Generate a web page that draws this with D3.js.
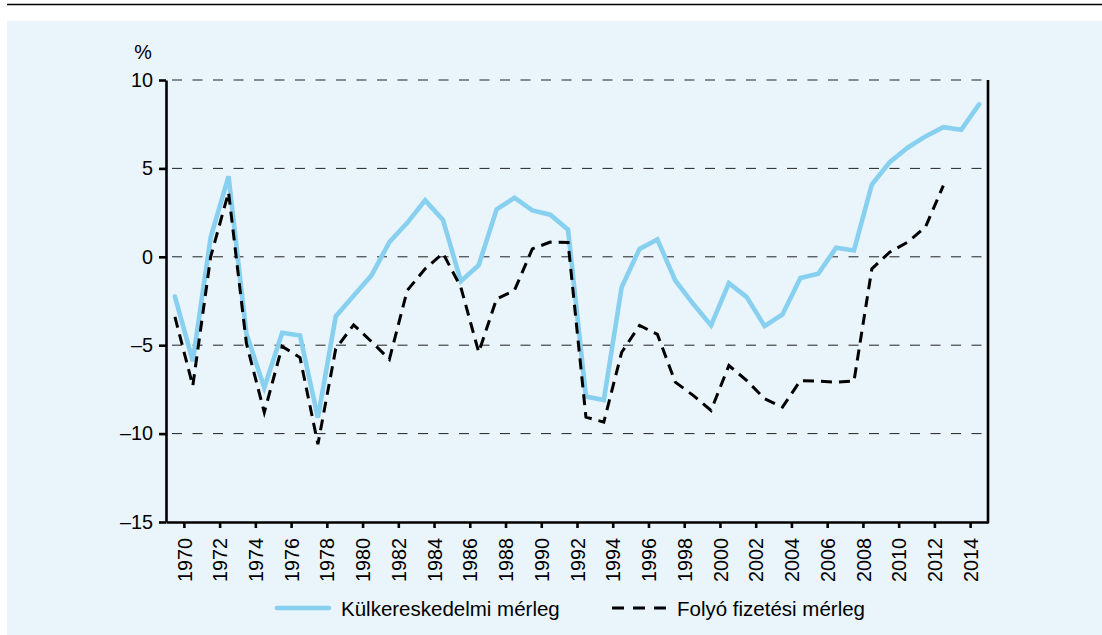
<!DOCTYPE html>
<html lang="hu">
<head>
  <meta charset="UTF-8">
  <title>Külkereskedelmi és folyó fizetési mérleg</title>
  <script src="https://d3js.org/d3.v7.min.js"></script>
  <style>
    body {
      margin: 0;
      padding: 0;
      background: #fff;
      font-family: "Liberation Sans", Arial, sans-serif;
    }
    .tick text {
      font-size: 19.8px;
      fill: #000;
    }
    .legend-text {
      font-size: 20.5px;
      fill: #000;
    }
  </style>
</head>
<body>
  <svg id="chart" width="1102" height="635"></svg>

  <script>
    // years on the x axis (value plotted in the middle of each year)
    const years = d3.range(1969, 2015);
    const yearTicks = d3.range(1970, 2015, 2);
    const yTicks = [-15, -10, -5, 0, 5, 10];
    const gridValues = [-10, -5, 0, 5, 10];

    // Külkereskedelmi mérleg, 1969-2014
    const kulkerValues = [
      -2.25, -5.9, 1.1, 4.55, -4.35, -7.4, -4.3, -4.45, -9.1, -3.37,
      -2.2, -1.05, 0.83, 1.92, 3.19, 2.09, -1.38, -0.47, 2.68, 3.34,
      2.62, 2.38, 1.53, -7.9, -8.1, -1.72, 0.45, 0.98, -1.34, -2.66,
      -3.88, -1.49, -2.28, -3.92, -3.26, -1.2, -0.96, 0.51, 0.36, 4.09,
      5.35, 6.17, 6.81, 7.33, 7.18, 8.62
    ];

    // Folyó fizetési mérleg, 1969-2012
    const folyoValues = [
      -3.4, -7.3, 0.0, 3.65, -4.9, -8.8, -5.07, -5.7, -10.6, -5.2,
      -3.85, -4.8, -5.8, -1.9, -0.68, 0.2, -1.72, -5.4, -2.38, -1.9,
      0.45, 0.83, 0.81, -9.07, -9.35, -5.4, -3.88, -4.39, -7.09, -7.84,
      -8.69, -6.15, -7.0, -8.03, -8.5, -7.0, -7.03, -7.09, -7.03, -0.68,
      0.26, 0.83, 1.68, 4.03
    ];

    const legendLabels = ["Külkereskedelmi mérleg", "Folyó fizetési mérleg"];

    const svg = d3.select("#chart");
    const blue = "#88d0f0";

    // panel background and top rule
    svg.append("rect")
      .attr("x", 7).attr("y", 21)
      .attr("width", 1095).attr("height", 614)
      .attr("fill", "#e9f4fb");
    svg.append("line")
      .attr("x1", 7).attr("x2", 1102)
      .attr("y1", 4.5).attr("y2", 4.5)
      .attr("stroke", "#000").attr("stroke-width", 1.6);

    const x = d3.scaleLinear().domain([1969, 2015]).range([166, 988]);
    const y = d3.scaleLinear().domain([-15, 10]).range([522, 80]);

    // dashed gridlines
    svg.append("g")
      .selectAll("line")
      .data(gridValues)
      .enter().append("line")
      .attr("x1", 166).attr("x2", 985)
      .attr("y1", d => y(d)).attr("y2", d => y(d))
      .attr("stroke", "#222")
      .attr("stroke-width", 1)
      .attr("stroke-dasharray", "10,10.5")
      .attr("stroke-dashoffset", -6);

    const fmt = d => (d < 0 ? "\u2013" + Math.abs(d) : String(d));

    // y axis
    const yAxis = svg.append("g")
      .attr("transform", "translate(166,0)")
      .call(d3.axisLeft(y).tickValues(yTicks).tickFormat(fmt)
        .tickSize(7).tickSizeOuter(0).tickPadding(6));
    yAxis.attr("font-family", null).attr("font-size", null);
    yAxis.select(".domain").attr("stroke-width", 2.6);
    yAxis.selectAll(".tick line").attr("stroke-width", 2.6);

    // x axis
    const xAxis = svg.append("g")
      .attr("transform", "translate(0,522)")
      .call(d3.axisBottom(x).tickValues(yearTicks).tickFormat(d3.format("d"))
        .tickSize(6).tickSizeOuter(0));
    xAxis.attr("font-family", null).attr("font-size", null);
    xAxis.select(".domain").attr("stroke-width", 2.6);
    xAxis.selectAll(".tick line").attr("stroke-width", 2.6);
    xAxis.selectAll(".tick text")
      .attr("transform", "rotate(-90)")
      .attr("text-anchor", "end")
      .attr("x", -16)
      .attr("y", 0)
      .attr("dy", "0.36em");

    // right frame line
    svg.append("line")
      .attr("x1", 988).attr("x2", 988)
      .attr("y1", y(10)).attr("y2", y(-15) + 1.3)
      .attr("stroke", "#000").attr("stroke-width", 2.6);

    // unit label
    svg.append("text")
      .attr("x", 143).attr("y", 59)
      .attr("text-anchor", "middle")
      .attr("font-size", 19.8)
      .text("%");

    const line = d3.line()
      .x((d, i) => x(years[i] + 0.5))
      .y(d => y(d));

    svg.append("path")
      .datum(kulkerValues)
      .attr("d", line)
      .attr("fill", "none")
      .attr("stroke", blue)
      .attr("stroke-width", 4.6)
      .attr("stroke-linecap", "round");

    svg.append("path")
      .datum(folyoValues)
      .attr("d", line)
      .attr("fill", "none")
      .attr("stroke", "#000")
      .attr("stroke-width", 3)
      .attr("stroke-dasharray", "11,7");

    // legend
    const legend = svg.append("g");
    legend.append("line")
      .attr("x1", 277).attr("x2", 329)
      .attr("y1", 608).attr("y2", 608)
      .attr("stroke", blue).attr("stroke-width", 4.6)
      .attr("stroke-linecap", "round");
    legend.append("text")
      .attr("class", "legend-text")
      .attr("x", 341).attr("y", 615.5)
      .text(legendLabels[0]);
    legend.append("line")
      .attr("x1", 612).attr("x2", 666)
      .attr("y1", 608).attr("y2", 608)
      .attr("stroke", "#000").attr("stroke-width", 3)
      .attr("stroke-dasharray", "12,9");
    legend.append("text")
      .attr("class", "legend-text")
      .attr("x", 677).attr("y", 615.5)
      .text(legendLabels[1]);
  </script>
</body>
</html>
